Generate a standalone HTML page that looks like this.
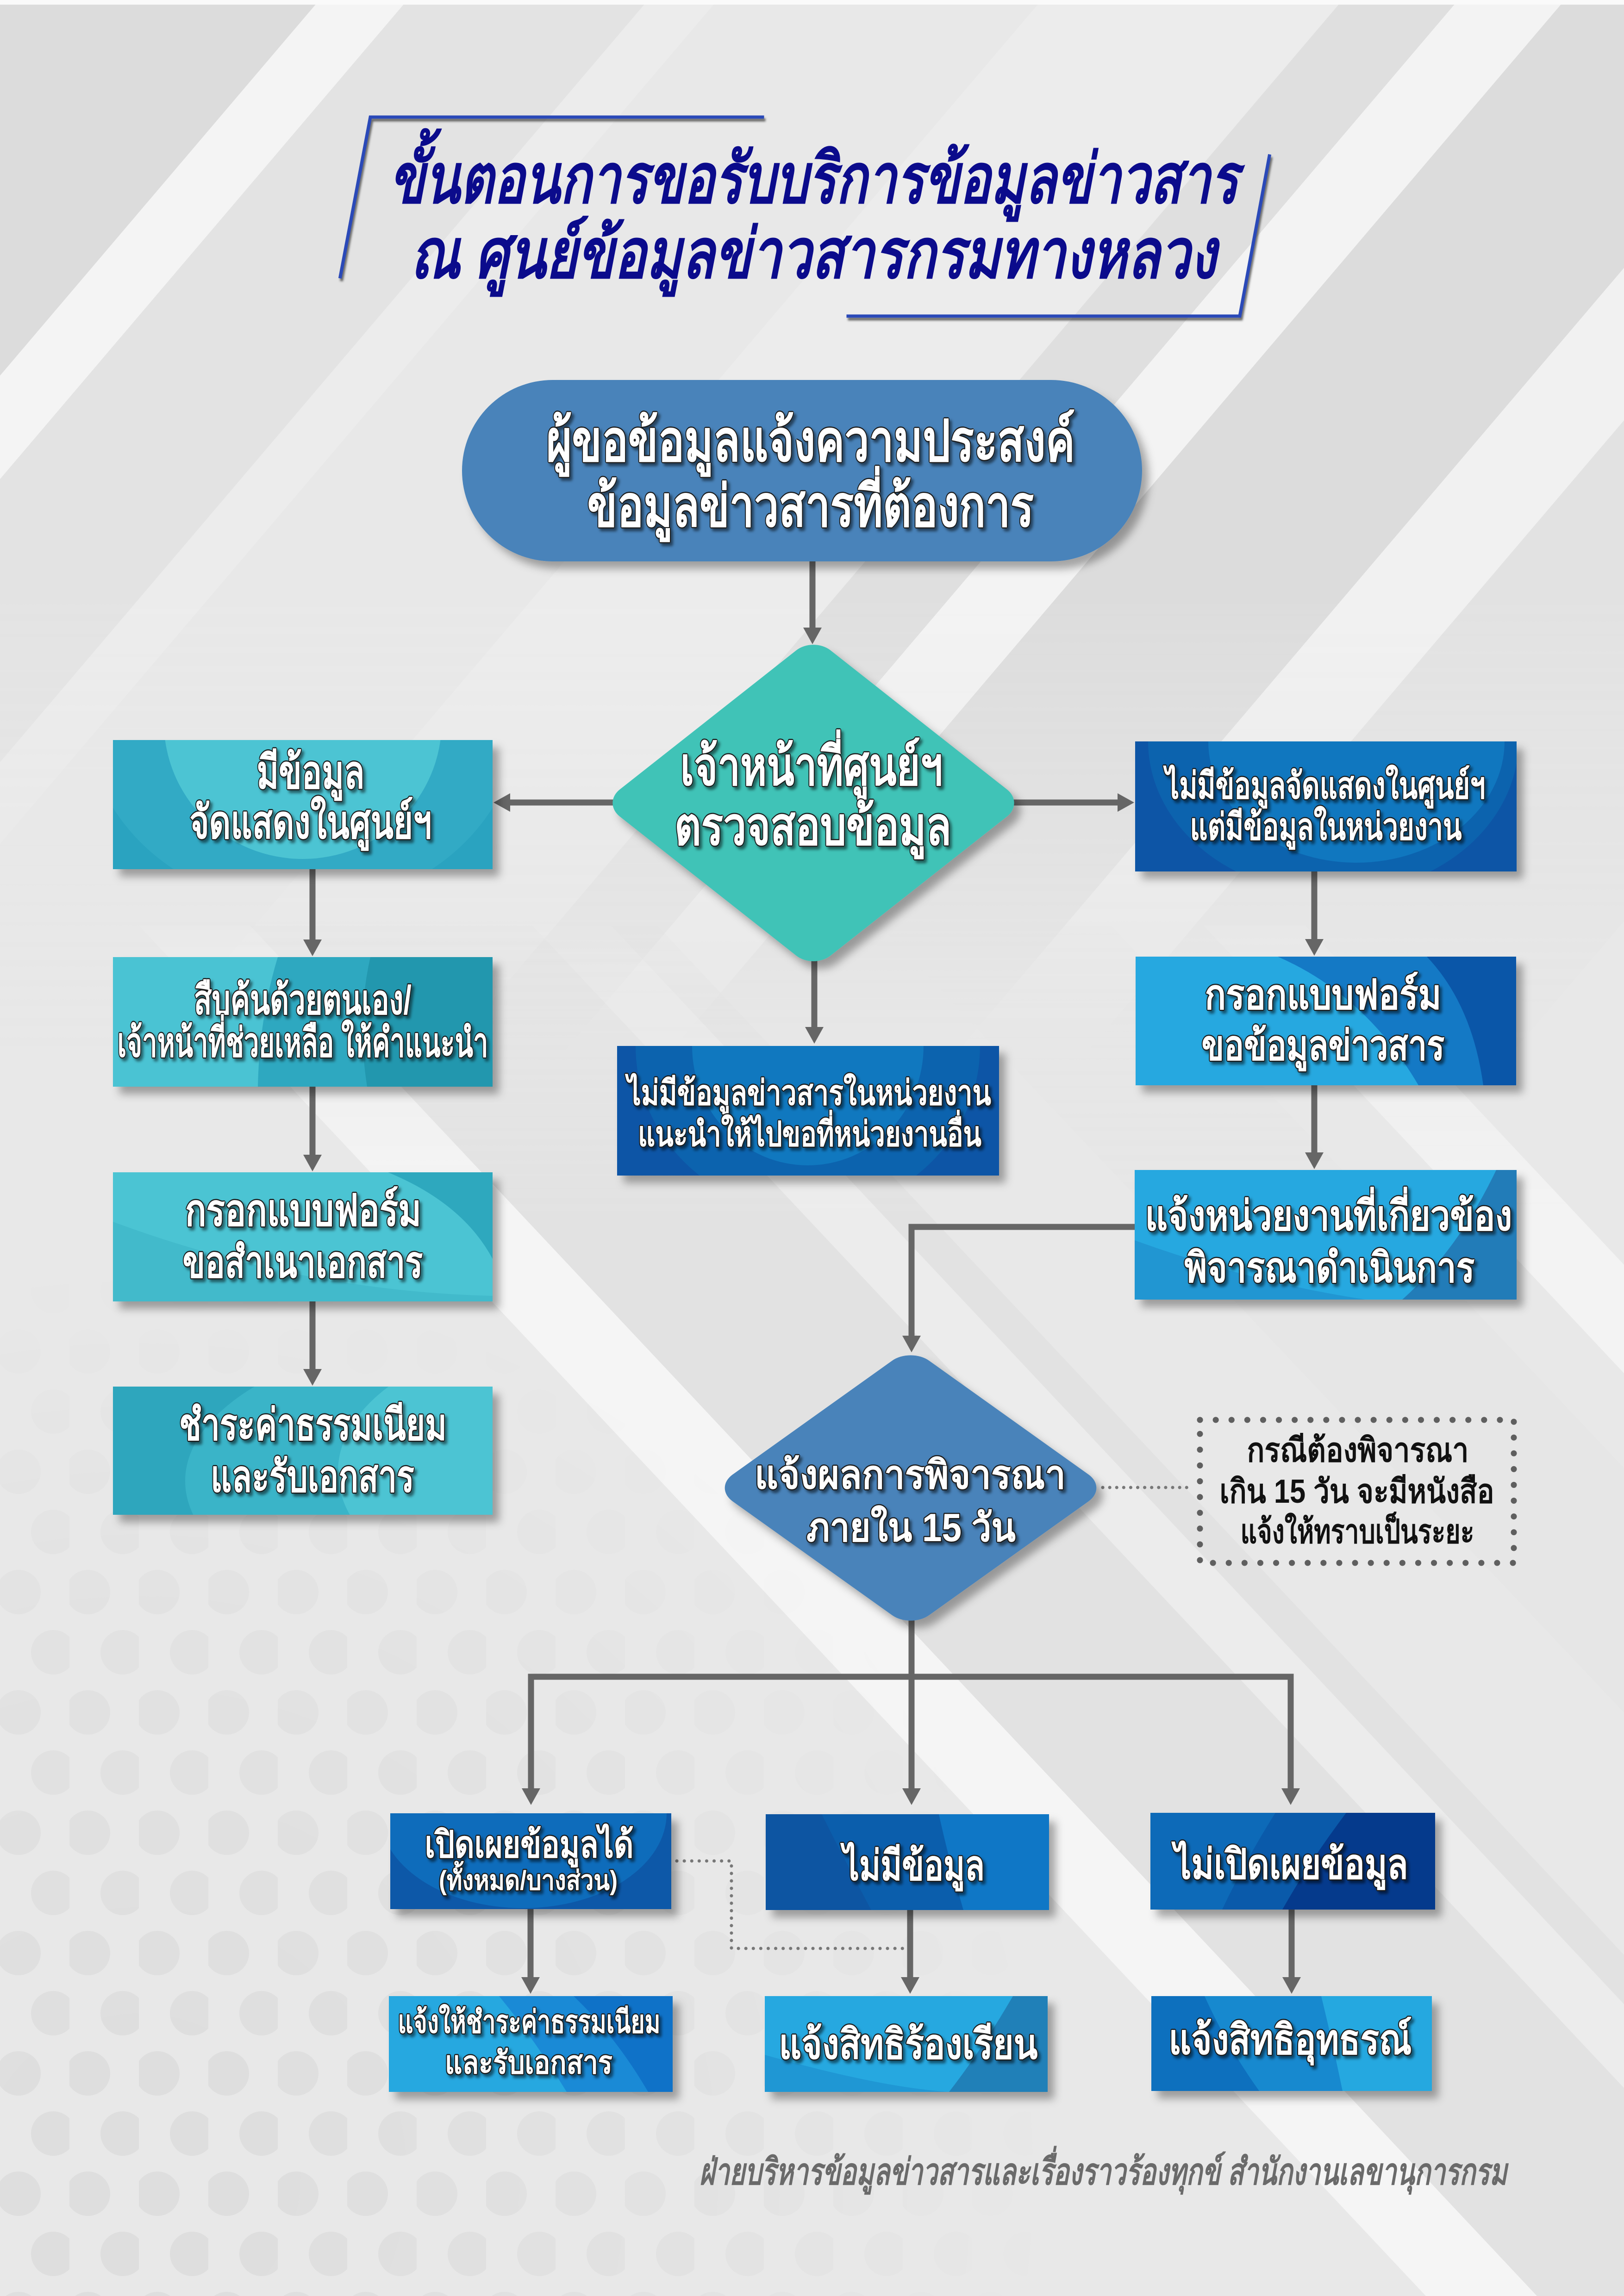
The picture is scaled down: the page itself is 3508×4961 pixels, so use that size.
<!DOCTYPE html>
<html lang="th">
<head>
<meta charset="utf-8">
<style>
  html,body{margin:0;padding:0;background:#e7e7e7;}
  svg{display:block;}
  .t{font-family:"Liberation Sans","DejaVu Sans","Noto Sans CJK SC",sans-serif;}
  .w{fill:#ffffff;stroke:#1c1c1c;stroke-width:5;paint-order:stroke;stroke-linejoin:round;font-weight:600;}
  .ln{stroke:#666666;stroke-width:13;fill:none;}
  .ah{fill:#666666;}
</style>
</head>
<body>
<svg width="3508" height="4961" viewBox="0 0 3508 4961" xmlns="http://www.w3.org/2000/svg">
<defs>
  <filter id="sh" x="-10%" y="-10%" width="130%" height="140%">
    <feDropShadow dx="14" dy="16" stdDeviation="9" flood-color="#000" flood-opacity="0.33"/>
  </filter>
  <filter id="tsh" x="-5%" y="-30%" width="115%" height="170%">
    <feDropShadow dx="5" dy="6" stdDeviation="3" flood-color="#000" flood-opacity="0.5"/>
  </filter>
  <filter id="lsh" x="-5%" y="-50%" width="110%" height="300%">
    <feDropShadow dx="3" dy="6" stdDeviation="2" flood-color="#333" flood-opacity="0.7"/>
  </filter>
  <linearGradient id="fadeTop" x1="0" y1="0" x2="0" y2="4961" gradientUnits="userSpaceOnUse">
    <stop offset="0" stop-color="#fff"/>
    <stop offset="0.26" stop-color="#fff"/>
    <stop offset="0.46" stop-color="#000"/>
  </linearGradient>
  <mask id="mTop"><rect x="0" y="0" width="3508" height="4961" fill="url(#fadeTop)"/></mask>
  <linearGradient id="fadeBot" x1="0" y1="0" x2="0" y2="4961" gradientUnits="userSpaceOnUse">
    <stop offset="0.38" stop-color="#000"/>
    <stop offset="0.53" stop-color="#fff"/>
  </linearGradient>
  <mask id="mBot"><rect x="0" y="0" width="3508" height="4961" fill="url(#fadeBot)"/></mask>
  <radialGradient id="dotFade" cx="300" cy="4700" r="2000" gradientUnits="userSpaceOnUse">
    <stop offset="0" stop-color="#fff"/>
    <stop offset="0.6" stop-color="#888"/>
    <stop offset="1" stop-color="#000"/>
  </radialGradient>
  <mask id="mDots"><rect x="0" y="0" width="3508" height="4961" fill="url(#dotFade)"/></mask>
  <pattern id="dots" x="0" y="0" width="150" height="260" patternUnits="userSpaceOnUse">
    <circle cx="40" cy="60" r="48" fill="#000" fill-opacity="0.045"/>
    <circle cx="115" cy="190" r="48" fill="#000" fill-opacity="0.045"/>
  </pattern>

  <clipPath id="cL1"><rect x="244" y="1599" width="820" height="279"/></clipPath>
  <clipPath id="cL2"><rect x="244" y="2068" width="820" height="280"/></clipPath>
  <clipPath id="cL3"><rect x="244" y="2533" width="820" height="279"/></clipPath>
  <clipPath id="cL4"><rect x="244" y="2996" width="820" height="277"/></clipPath>
  <clipPath id="cM"><rect x="1333" y="2260" width="825" height="280"/></clipPath>
  <clipPath id="cR1"><rect x="2452" y="1602" width="824" height="281"/></clipPath>
  <clipPath id="cR2"><rect x="2453" y="2067" width="822" height="278"/></clipPath>
  <clipPath id="cR3"><rect x="2451" y="2528" width="825" height="280"/></clipPath>
  <clipPath id="cB1"><rect x="843" y="3918" width="607" height="207"/></clipPath>
  <clipPath id="cB2"><rect x="1654" y="3920" width="612" height="207"/></clipPath>
  <clipPath id="cB3"><rect x="2485" y="3917" width="615" height="209"/></clipPath>
  <clipPath id="cB4"><rect x="840" y="4313" width="613" height="207"/></clipPath>
  <clipPath id="cB5"><rect x="1652" y="4313" width="611" height="207"/></clipPath>
  <clipPath id="cB6"><rect x="2487" y="4313" width="606" height="205"/></clipPath>
</defs>

<!-- ===== BACKGROUND ===== -->
<rect x="0" y="0" width="3508" height="4961" fill="#e8e8e8"/>
<g mask="url(#mTop)">
  <polygon points="-1000,0 690,0 -1860,3000 -3550,3000" fill="#dcdcdc"/>
  <polygon points="690,0 880,0 -1670,3000 -1860,3000" fill="#f4f4f4"/>
  <polygon points="880,0 1400,0 -1150,3000 -1670,3000" fill="#e3e3e3"/>
  <polygon points="1400,0 1550,0 -1000,3000 -1150,3000" fill="#ececec"/>
  <polygon points="1550,0 2250,0 -300,3000 -1000,3000" fill="#e8e8e8"/>
  <polygon points="2250,0 2900,0 350,3000 -300,3000" fill="#ececec"/>
  <polygon points="2900,0 3150,0 600,3000 350,3000" fill="#dfdfdf"/>
  <polygon points="3150,0 3380,0 830,3000 600,3000" fill="#f3f3f3"/>
  <polygon points="3380,0 4000,0 1450,3000 830,3000" fill="#dcdcdc"/>
  <polygon points="4000,0 4280,0 1730,3000 1450,3000" fill="#f1f1f1"/>
  <polygon points="4280,0 5200,0 2650,3000 1730,3000" fill="#e2e2e2"/>
</g>
<g mask="url(#mBot)">
  <polygon points="420,2000 3200,4961 4200,4961 1420,2000" fill="#e2e2e2"/>
  <polygon points="1900,2000 4700,4961 5200,4961 2400,2000" fill="#e6e6e6"/>
  <polygon points="300,2000 3080,4961 3320,4961 540,2000" fill="#f5f5f5"/>
  <polygon points="1150,2000 3930,4961 4100,4961 1320,2000" fill="#ececec"/>
  <polygon points="2600,2000 5380,4961 5600,4961 2820,2000" fill="#f3f3f3"/>
</g>
<rect x="0" y="2600" width="2400" height="2361" fill="url(#dots)" mask="url(#mDots)"/>
<rect x="0" y="0" width="3508" height="10" fill="#fafafa"/>

<!-- ===== TITLE FRAME ===== -->
<g filter="url(#lsh)" stroke="#2b49b8" stroke-width="7" fill="none" stroke-linecap="square">
  <polyline points="1647,253 800,253 735,598"/>
  <polyline points="2742,337 2678,683 1832,683"/>
</g>
<g class="t" font-style="italic" font-weight="bold" fill="#0b0b8c">
  <text x="1758" y="438" font-size="150" text-anchor="middle" textLength="1834" lengthAdjust="spacingAndGlyphs">ขั้นตอนการขอรับบริการข้อมูลข่าวสาร</text>
  <text x="1757" y="600" font-size="150" text-anchor="middle" textLength="1741" lengthAdjust="spacingAndGlyphs">ณ ศูนย์ข้อมูลข่าวสารกรมทางหลวง</text>
</g>

<!-- ===== CONNECTORS ===== -->
<g>
  <line class="ln" x1="1755" y1="1213" x2="1755" y2="1362"/>
  <polygon class="ah" points="1735,1356 1775,1356 1755,1392"/>
  <line class="ln" x1="1330" y1="1734" x2="1100" y2="1734"/>
  <polygon class="ah" points="1102,1714 1102,1754 1066,1734"/>
  <line class="ln" x1="2185" y1="1734" x2="2418" y2="1734"/>
  <polygon class="ah" points="2414,1714 2414,1754 2450,1734"/>
  <line class="ln" x1="1759" y1="2070" x2="1759" y2="2225"/>
  <polygon class="ah" points="1739,2219 1779,2219 1759,2255"/>
  <line class="ln" x1="675" y1="1878" x2="675" y2="2036"/>
  <polygon class="ah" points="655,2030 695,2030 675,2066"/>
  <line class="ln" x1="675" y1="2348" x2="675" y2="2501"/>
  <polygon class="ah" points="655,2495 695,2495 675,2531"/>
  <line class="ln" x1="675" y1="2812" x2="675" y2="2964"/>
  <polygon class="ah" points="655,2958 695,2958 675,2994"/>
  <line class="ln" x1="2839" y1="1883" x2="2839" y2="2035"/>
  <polygon class="ah" points="2819,2029 2859,2029 2839,2065"/>
  <line class="ln" x1="2839" y1="2345" x2="2839" y2="2496"/>
  <polygon class="ah" points="2819,2490 2859,2490 2839,2526"/>
  <polyline class="ln" points="2451,2651 1969,2651 1969,2892"/>
  <polygon class="ah" points="1949,2886 1989,2886 1969,2922"/>
  <line class="ln" x1="1969" y1="3495" x2="1969" y2="3870"/>
  <polyline class="ln" points="1147,3870 1147,3623 2788,3623 2788,3870"/>
  <polygon class="ah" points="1127,3864 1167,3864 1147,3900"/>
  <polygon class="ah" points="1949,3864 1989,3864 1969,3900"/>
  <polygon class="ah" points="2768,3864 2808,3864 2788,3900"/>
  <line class="ln" x1="1146" y1="4125" x2="1146" y2="4278"/>
  <polygon class="ah" points="1126,4272 1166,4272 1146,4308"/>
  <line class="ln" x1="1966" y1="4127" x2="1966" y2="4278"/>
  <polygon class="ah" points="1946,4272 1986,4272 1966,4308"/>
  <line class="ln" x1="2790" y1="4126" x2="2790" y2="4278"/>
  <polygon class="ah" points="2770,4272 2810,4272 2790,4308"/>
  <line x1="2382" y1="3214" x2="2578" y2="3214" stroke="#777" stroke-width="7" stroke-linecap="round" stroke-dasharray="0.1 15"/>
  <polyline points="1462,4021 1580,4021 1580,4210 1958,4210" fill="none" stroke="#777" stroke-width="7" stroke-linecap="round" stroke-dasharray="0.1 16"/>
</g>

<!-- ===== PILL ===== -->
<g filter="url(#sh)"><rect x="998" y="821" width="1469" height="392" rx="196" fill="#4983ba"/></g>

<!-- ===== DIAMOND 1 ===== -->
<g filter="url(#sh)">
  <rect x="-74" y="-74" width="148" height="148" rx="12" fill="#40c3b7" transform="translate(1757,1735) scale(4.35,3.43) rotate(45)"/>
</g>

<!-- ===== DIAMOND 2 ===== -->
<g filter="url(#sh)">
  <rect x="-74" y="-74" width="148" height="148" rx="14" fill="#4983ba" transform="translate(1967,3215) scale(4.06,2.90) rotate(45)"/>
</g>

<!-- ===== LEFT COLUMN ===== -->
<g filter="url(#sh)"><rect x="244" y="1599" width="820" height="279" fill="#2ca3c0"/></g>
<g clip-path="url(#cL1)">
  <ellipse cx="654" cy="1540" rx="470" ry="420" fill="#32aac5"/>
  <ellipse cx="654" cy="1560" rx="300" ry="296" fill="#4cc4d3"/>
</g>
<g filter="url(#sh)"><rect x="244" y="2068" width="820" height="280" fill="#2097ae"/></g>
<g clip-path="url(#cL2)">
  <path d="M244,2068 H800 Q770,2200 793,2348 H244 Z" fill="#2ea8c0"/>
  <path d="M244,2068 H600 Q560,2200 557,2348 H244 Z" fill="#4ac3d3"/>
</g>
<g filter="url(#sh)"><rect x="244" y="2533" width="820" height="279" fill="#4cc4d3"/></g>
<g clip-path="url(#cL3)">
  <path d="M838,2533 Q1000,2600 1064,2720 V2533 Z" fill="#2ea8be"/>
  <path d="M244,2640 Q650,2790 1064,2800 V2812 H244 Z" fill="#42bacb"/>
</g>
<g filter="url(#sh)"><rect x="244" y="2996" width="820" height="277" fill="#2ea6bd"/></g>
<g clip-path="url(#cL4)">
  <ellipse cx="1100" cy="3200" rx="700" ry="330" fill="#3ab4c8"/>
  <ellipse cx="1250" cy="3180" rx="520" ry="300" fill="#4cc4d3"/>
</g>

<!-- ===== MIDDLE BOX ===== -->
<g filter="url(#sh)"><rect x="1333" y="2260" width="825" height="280" fill="#0a55a6"/></g>
<g clip-path="url(#cM)">
  <ellipse cx="1745" cy="2260" rx="372" ry="360" fill="#0c63ae"/>
  <ellipse cx="1745" cy="2260" rx="250" ry="258" fill="#1078bf"/>
</g>

<!-- ===== RIGHT COLUMN ===== -->
<g filter="url(#sh)"><rect x="2452" y="1602" width="824" height="281" fill="#0a55a6"/></g>
<g clip-path="url(#cR1)">
  <ellipse cx="2880" cy="1602" rx="400" ry="330" fill="#0c63ae"/>
  <ellipse cx="2930" cy="1602" rx="320" ry="262" fill="#1077bf"/>
</g>
<g filter="url(#sh)"><rect x="2453" y="2067" width="822" height="278" fill="#25a8e0"/></g>
<g clip-path="url(#cR2)">
  <path d="M2760,2067 Q2950,2150 3064,2345 H3275 V2067 Z" fill="#1479c5"/>
  <path d="M3082,2067 Q3180,2170 3204,2345 H3275 V2067 Z" fill="#0a56a8"/>
</g>
<g filter="url(#sh)"><rect x="2451" y="2528" width="825" height="280" fill="#25a8e0"/></g>
<g clip-path="url(#cR3)">
  <path d="M2451,2680 Q2700,2770 2950,2808 H2451 Z" fill="#2196d2"/>
  <path d="M3232,2528 Q3150,2700 3029,2808 H3276 V2528 Z" fill="#227cb8"/>
</g>

<!-- ===== NOTE BOX ===== -->
<rect x="2592" y="3068" width="678" height="309" fill="none" stroke="#5f5f5f" stroke-width="13" stroke-linecap="round" stroke-dasharray="0.1 34"/>

<!-- ===== BOTTOM ROW ===== -->
<g filter="url(#sh)"><rect x="843" y="3918" width="607" height="207" fill="#0a58a8"/></g>
<g clip-path="url(#cB1)">
  <ellipse cx="1130" cy="3918" rx="310" ry="205" fill="#0e6cbb"/>
</g>
<g filter="url(#sh)"><rect x="1654" y="3920" width="612" height="207" fill="#0a55a2"/></g>
<g clip-path="url(#cB2)">
  <path d="M1775,3920 Q1830,4030 1882,4127 H2266 V3920 Z" fill="#0b5eac"/>
  <path d="M2028,3920 Q2050,4020 2081,4127 H2266 V3920 Z" fill="#0f77c6"/>
</g>
<g filter="url(#sh)"><rect x="2485" y="3917" width="615" height="209" fill="#0e6bb8"/></g>
<g clip-path="url(#cB3)">
  <path d="M2755,3917 Q2690,4020 2640,4126 H3100 V3917 Z" fill="#0a5aaa"/>
  <path d="M2908,3917 Q2830,4020 2770,4126 H3100 V3917 Z" fill="#053a8c"/>
</g>
<g filter="url(#sh)"><rect x="840" y="4313" width="613" height="207" fill="#25a8e0"/></g>
<g clip-path="url(#cB4)">
  <path d="M1078,4313 Q1150,4400 1224,4520 H1453 V4313 Z" fill="#1a8ad6"/>
  <path d="M1239,4313 Q1330,4400 1400,4520 H1453 V4313 Z" fill="#0f72c8"/>
</g>
<g filter="url(#sh)"><rect x="1652" y="4313" width="611" height="207" fill="#25a8e0"/></g>
<g clip-path="url(#cB5)">
  <path d="M1652,4440 Q1900,4510 2050,4520 H1652 Z" fill="#1f97d4"/>
  <path d="M2188,4313 Q2120,4430 2050,4520 H2263 V4313 Z" fill="#2080b8"/>
</g>
<g filter="url(#sh)"><rect x="2487" y="4313" width="606" height="205" fill="#0f6fbe"/></g>
<g clip-path="url(#cB6)">
  <path d="M2602,4313 Q2650,4420 2720,4518 H3093 V4313 Z" fill="#1789cf"/>
  <path d="M2854,4313 Q2880,4420 2900,4518 H3093 V4313 Z" fill="#25a8e0"/>
</g>

<!-- ===== WHITE LABELS ===== -->
<g class="t w" filter="url(#tsh)" text-anchor="middle">
  <text x="1751" y="996" font-size="125" textLength="1142" lengthAdjust="spacingAndGlyphs">ผู้ขอข้อมูลแจ้งความประสงค์</text>
  <text x="1751" y="1137" font-size="125" textLength="965" lengthAdjust="spacingAndGlyphs">ข้อมูลข่าวสารที่ต้องการ</text>

  <text x="1753" y="1696" font-size="115" textLength="567" lengthAdjust="spacingAndGlyphs">เจ้าหน้าที่ศูนย์ฯ</text>
  <text x="1756" y="1825" font-size="115" textLength="598" lengthAdjust="spacingAndGlyphs">ตรวจสอบข้อมูล</text>

  <text x="671" y="1703" font-size="100" textLength="233" lengthAdjust="spacingAndGlyphs">มีข้อมูล</text>
  <text x="671" y="1811" font-size="100" textLength="523" lengthAdjust="spacingAndGlyphs">จัดแสดงในศูนย์ฯ</text>

  <text x="654" y="2191" font-size="88" textLength="470" lengthAdjust="spacingAndGlyphs">สืบค้นด้วยตนเอง/</text>
  <text x="654" y="2283" font-size="88" textLength="801" lengthAdjust="spacingAndGlyphs">เจ้าหน้าที่ช่วยเหลือ ให้คำแนะนำ</text>

  <text x="655" y="2648" font-size="95" textLength="510" lengthAdjust="spacingAndGlyphs">กรอกแบบฟอร์ม</text>
  <text x="654" y="2760" font-size="95" textLength="519" lengthAdjust="spacingAndGlyphs">ขอสำเนาเอกสาร</text>

  <text x="676" y="3111" font-size="95" textLength="578" lengthAdjust="spacingAndGlyphs">ชำระค่าธรรมเนียม</text>
  <text x="675" y="3223" font-size="95" textLength="440" lengthAdjust="spacingAndGlyphs">และรับเอกสาร</text>

  <text x="1748" y="2387" font-size="75" textLength="786" lengthAdjust="spacingAndGlyphs">ไม่มีข้อมูลข่าวสารในหน่วยงาน</text>
  <text x="1749" y="2476" font-size="75" textLength="742" lengthAdjust="spacingAndGlyphs">แนะนำให้ไปขอที่หน่วยงานอื่น</text>

  <text x="2863" y="1725" font-size="80" textLength="691" lengthAdjust="spacingAndGlyphs">ไม่มีข้อมูลจัดแสดงในศูนย์ฯ</text>
  <text x="2864" y="1814" font-size="80" textLength="587" lengthAdjust="spacingAndGlyphs">แต่มีข้อมูลในหน่วยงาน</text>

  <text x="2858" y="2180" font-size="90" textLength="511" lengthAdjust="spacingAndGlyphs">กรอกแบบฟอร์ม</text>
  <text x="2858" y="2290" font-size="90" textLength="525" lengthAdjust="spacingAndGlyphs">ขอข้อมูลข่าวสาร</text>

  <text x="2870" y="2658" font-size="90" textLength="793" lengthAdjust="spacingAndGlyphs">แจ้งหน่วยงานที่เกี่ยวข้อง</text>
  <text x="2872" y="2770" font-size="90" textLength="627" lengthAdjust="spacingAndGlyphs">พิจารณาดำเนินการ</text>

  <text x="1966" y="3216" font-size="85" textLength="672" lengthAdjust="spacingAndGlyphs">แจ้งผลการพิจารณา</text>
  <text x="1968" y="3330" font-size="85" textLength="452" lengthAdjust="spacingAndGlyphs">ภายใน 15 วัน</text>

  <text x="1143" y="4013" font-size="80" textLength="451" lengthAdjust="spacingAndGlyphs">เปิดเผยข้อมูลได้</text>
  <text x="1141" y="4083" font-size="58" textLength="386" lengthAdjust="spacingAndGlyphs">(ทั้งหมด/บางส่วน)</text>

  <text x="1974" y="4062" font-size="90" textLength="306" lengthAdjust="spacingAndGlyphs">ไม่มีข้อมูล</text>
  <text x="2789" y="4059" font-size="90" textLength="505" lengthAdjust="spacingAndGlyphs">ไม่เปิดเผยข้อมูล</text>

  <text x="1143" y="4392" font-size="68" textLength="567" lengthAdjust="spacingAndGlyphs">แจ้งให้ชำระค่าธรรมเนียม</text>
  <text x="1142" y="4480" font-size="68" textLength="362" lengthAdjust="spacingAndGlyphs">และรับเอกสาร</text>

  <text x="1962" y="4448" font-size="90" textLength="559" lengthAdjust="spacingAndGlyphs">แจ้งสิทธิร้องเรียน</text>
  <text x="2787" y="4438" font-size="90" textLength="525" lengthAdjust="spacingAndGlyphs">แจ้งสิทธิอุทธรณ์</text>
</g>

<!-- ===== NOTE TEXT ===== -->
<g class="t" fill="#111111" font-weight="bold" text-anchor="middle">
  <text x="2933" y="3158" font-size="72" textLength="479" lengthAdjust="spacingAndGlyphs">กรณีต้องพิจารณา</text>
  <text x="2931" y="3247" font-size="72" textLength="593" lengthAdjust="spacingAndGlyphs">เกิน 15 วัน จะมีหนังสือ</text>
  <text x="2932" y="3334" font-size="72" textLength="505" lengthAdjust="spacingAndGlyphs">แจ้งให้ทราบเป็นระยะ</text>
</g>

<!-- ===== FOOTER ===== -->
<text class="t" x="2383" y="4720" font-size="80" font-style="italic" font-weight="bold" fill="#6a6a6a" text-anchor="middle" textLength="1745" lengthAdjust="spacingAndGlyphs">ฝ่ายบริหารข้อมูลข่าวสารและเรื่องราวร้องทุกข์ สำนักงานเลขานุการกรม</text>
</svg>
</body>
</html>
